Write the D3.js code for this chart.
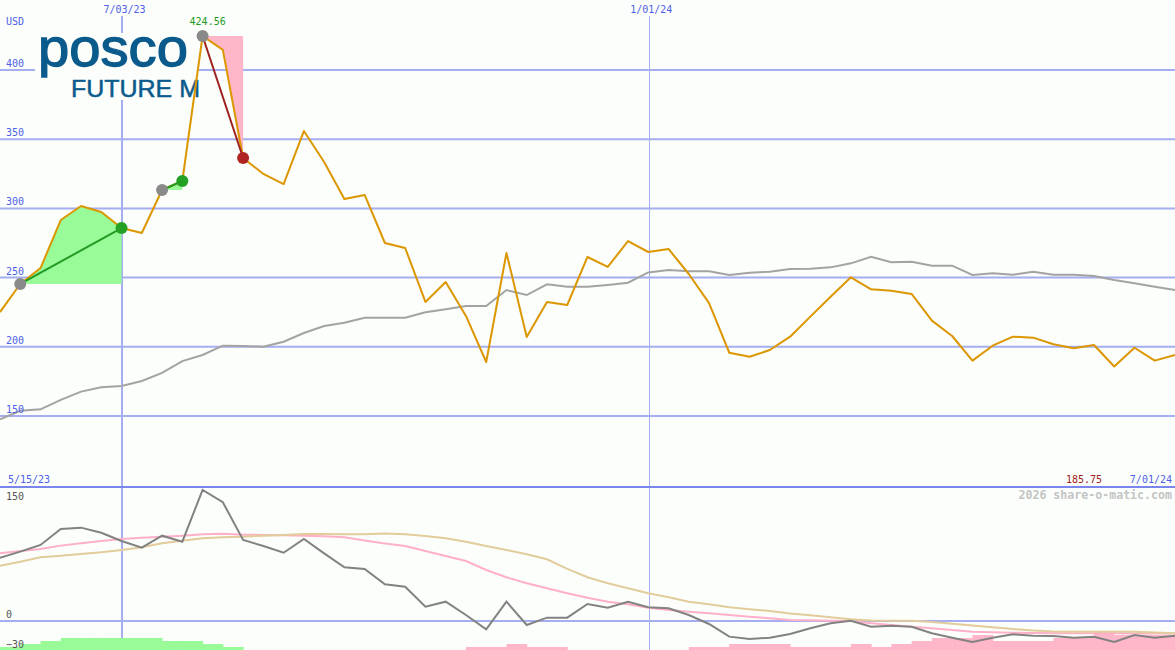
<!DOCTYPE html>
<html>
<head>
<meta charset="utf-8">
<script src="https://cdn.jsdelivr.net/npm/d3@7/dist/d3.min.js"></script>
<style>
  html, body { margin: 0; padding: 0; background: #fbfefb; }
  svg { display: block; }
  text { font-family: "DejaVu Sans Mono", monospace; }
</style>
</head>
<body>
<svg id="chart" width="1175" height="650"></svg>
<script>
// ---------- DATA ----------
const dates = [
  "2023-05-22","2023-05-29","2023-06-05","2023-06-12","2023-06-19","2023-06-26",
  "2023-07-03","2023-07-10","2023-07-17","2023-07-24","2023-07-31",
  "2023-08-07","2023-08-14","2023-08-21","2023-08-28",
  "2023-09-04","2023-09-11","2023-09-18","2023-09-25",
  "2023-10-02","2023-10-09","2023-10-16","2023-10-23","2023-10-30",
  "2023-11-06","2023-11-13","2023-11-20","2023-11-27",
  "2023-12-04","2023-12-11","2023-12-18","2023-12-25",
  "2024-01-01","2024-01-08","2024-01-15","2024-01-22","2024-01-29",
  "2024-02-05","2024-02-12","2024-02-19","2024-02-26",
  "2024-03-04","2024-03-11","2024-03-18","2024-03-25",
  "2024-04-01","2024-04-08","2024-04-15","2024-04-22","2024-04-29",
  "2024-05-06","2024-05-13","2024-05-20","2024-05-27",
  "2024-06-03","2024-06-10","2024-06-17","2024-06-24","2024-07-01"
];
const price = [
  225.1, 245.4, 256.9, 291.6, 301.7, 297.4, 285.8, 282.2, 313.3, 319.8,
  424.56, 414.5, 336.4, 324.9, 317.6, 355.9, 333.5, 306.8, 309.7, 275.0,
  271.4, 232.4, 246.8, 222.3, 189.0, 267.8, 207.1, 232.4, 230.2, 264.9,
  257.7, 276.4, 268.5, 270.7, 252.6, 231.6, 195.7, 192.8, 197.7, 207.3,
  221.8, 236.2, 250.2, 241.5, 240.5, 238.2, 218.9, 207.8, 190.0, 200.8,
  207.3, 206.6, 201.8, 198.9, 201.3, 185.75, 199.3, 190.0, 194.1
];
const movingAvg = [
  147.6, 153.8, 154.8, 161.6, 167.6, 170.7, 171.7, 175.3, 181.1, 189.7,
  194.1, 200.8, 200.6, 200.1, 203.7, 210.0, 215.0, 217.4, 221.0, 221.0,
  221.0, 224.9, 227.1, 229.5, 229.5, 241.0, 237.4, 245.2, 243.4, 243.4,
  244.7, 246.3, 253.7, 255.5, 254.6, 254.6, 251.9, 253.5, 254.3, 256.2,
  256.4, 257.4, 260.3, 265.1, 261.1, 261.5, 258.6, 258.6, 251.9, 253.1,
  252.1, 254.3, 252.1, 252.1, 251.2, 248.3, 245.9, 243.4, 241.0
];
const oscillator = [
  72.5, 79.4, 87.1, 105.4, 106.9, 101.1, 91.6, 84.0, 97.7, 90.8,
  150.1, 136.0, 92.8, 85.9, 78.2, 93.9, 77.5, 61.5, 59.6, 42.0,
  39.3, 16.4, 22.1, 6.9, -9.5, 22.1, -4.6, 3.8, 3.8, 19.5,
  15.2, 22.1, 15.7, 14.5, 6.9, -3.4, -17.9, -20.6, -19.1, -14.9,
  -8.4, -2.6, 0.3, -6.5, -5.4, -6.5, -14.1, -19.1, -24.1, -19.1,
  -15.2, -16.8, -17.2, -19.1, -18.0, -24.1, -16.0, -19.1, -16.8
];
const signalFast = [
  77.5, 80.2, 82.5, 86.3, 89.0, 91.6, 93.9, 95.4, 96.6, 97.7,
  99.3, 100.0, 98.9, 98.5, 98.2, 97.7, 97.0, 95.9, 92.2, 88.8,
  85.9, 80.2, 74.5, 68.7, 58.4, 50.1, 43.2, 37.5, 31.7, 26.7,
  22.1, 19.1, 15.2, 12.6, 10.7, 8.8, 6.9, 4.9, 3.1, 1.1,
  0.8, 0.3, 0.0, -2.6, -4.6, -6.5, -8.4, -10.3, -12.3, -13.0,
  -13.4, -13.7, -13.9, -14.0, -14.0, -14.1, -14.2, -14.2, -14.3
];
const signalSlow = [
  63.3, 67.9, 73.0, 74.8, 76.7, 78.7, 81.3, 84.4, 89.0, 92.0,
  94.7, 95.9, 96.6, 97.7, 98.5, 99.7, 99.7, 99.3, 99.3, 100.2,
  99.3, 97.4, 94.7, 90.8, 85.9, 81.3, 76.4, 70.7, 59.6, 50.1,
  43.2, 37.5, 31.7, 27.2, 22.1, 19.1, 15.7, 13.4, 11.5, 8.6,
  6.5, 4.4, 1.9, 0.6, 0.3, 0.3, -1.1, -3.2, -5.2, -7.2,
  -9.2, -10.9, -12.0, -12.3, -12.3, -12.3, -12.3, -13.2, -14.1
];
const histogram = [
  1, 2, 3, 4, 4, 4, 4, 4, 3, 3, 2, 1,
  0, 0, 0, 0, 0, 0, 0, 0, 0, 0, 0,
  -1, -1, -2, -1, -1,
  0, 0, 0, 0, 0, 0,
  -1, -1, -2, -2, -2, -1, -1, -1, -2, -1, -2, -3, -4, -4, -5, -3, -3, -3, -4, -4, -6, -5, -5, -5, -5
];
const priceTicks = [150, 200, 250, 300, 350, 400];
const oscTicks = [150, 0, -30];
const dateMarks = ["2023-07-03", "2024-01-01"];
const dateMarkLabels = ["7/03/23", "1/01/24"];
const trades = [
  { from: 1, to: 6, win: true },
  { from: 8, to: 9, win: true },
  { from: 10, to: 12, win: false }
];
const currency = "USD";
const peakLabel = "424.56";
const startLabel = "5/15/23";
const endLabel = "7/01/24";
const lowLabel = "185.75";
const credit = "2026 share-o-matic.com";

// ---------- SETUP ----------
const W = 1175, H = 650;
const bg = "#fbfefb";
const parse = d3.timeParse("%Y-%m-%d");
const dts = dates.map(parse);
const svg = d3.select("#chart");

const x = d3.scaleTime().domain([parse("2023-05-22"), parse("2024-07-01")]).range([0, W]);
const y = d3.scaleLinear().domain([150, 400]).range([416, 70]);
const yo = d3.scaleLinear().domain([0, 150]).range([621, 490]);
const yb = d3.scaleLinear().domain([0, 6]).range([650, 632]);
const step = x(dts[1]) - x(dts[0]);

svg.append("rect").attr("width", W).attr("height", H).attr("fill", bg);

const gridCol = "#a4aef0";

// horizontal grid (price)
svg.append("g").selectAll("line").data(priceTicks).join("line")
  .attr("x1", 0).attr("x2", W)
  .attr("y1", d => y(d)).attr("y2", d => y(d))
  .attr("stroke", gridCol).attr("stroke-width", 2);

// vertical date lines
svg.append("g").selectAll("line").data(dateMarks).join("line")
  .attr("x1", (d, i) => Math.round(x(parse(d))) + (i === 1 ? 1.5 : 0))
  .attr("x2", (d, i) => Math.round(x(parse(d))) + (i === 1 ? 1.5 : 0))
  .attr("y1", 16).attr("y2", H)
  .attr("stroke", gridCol)
  .attr("stroke-width", (d, i) => i === 0 ? 2 : 1);

// oscillator zero line
svg.append("line").attr("x1", 0).attr("x2", W)
  .attr("y1", yo(0)).attr("y2", yo(0))
  .attr("stroke", gridCol).attr("stroke-width", 2);

// divider
svg.append("line").attr("x1", 0).attr("x2", W)
  .attr("y1", 487).attr("y2", 487)
  .attr("stroke", "#7a86ec").attr("stroke-width", 2);

// logo
const logoCol = "#0b5a8c";
const logo = svg.append("g");
logo.append("rect").attr("x", 35).attr("y", 33).attr("width", 164).attr("height", 67).attr("fill", bg);
logo.append("text").attr("x", 38).attr("y", 66)
  .attr("textLength", 150).attr("lengthAdjust", "spacingAndGlyphs")
  .style("font-family", "'Liberation Sans', Arial, sans-serif")
  .style("font-size", "54px")
  .attr("fill", logoCol).attr("stroke", logoCol).attr("stroke-width", 1.3)
  .text("posco");
logo.append("text").attr("x", 71).attr("y", 97)
  .attr("textLength", 129).attr("lengthAdjust", "spacingAndGlyphs")
  .style("font-family", "'Liberation Sans', Arial, sans-serif")
  .style("font-size", "24px")
  .attr("fill", logoCol).attr("stroke", logoCol).attr("stroke-width", 0.5)
  .text("FUTURE M");

// trade fills
trades.forEach(t => {
  const base = price[t.from];
  const idx = d3.range(t.from, t.to + 1);
  const area = d3.area()
    .x(i => x(dts[i]))
    .y0(y(base))
    .y1(i => y(price[i]));
  svg.append("path").datum(idx).attr("d", area)
    .attr("fill", t.win ? "#98fb98" : "#ffb6c8");
});

// moving average
const lineP = d3.line().x((d, i) => x(dts[i])).y(d => y(d));
svg.append("path").datum(movingAvg).attr("d", lineP)
  .attr("fill", "none").attr("stroke", "#a3a3a3").attr("stroke-width", 2);

// price
svg.append("path").datum(price).attr("d", lineP)
  .attr("fill", "none").attr("stroke", "#dc9600").attr("stroke-width", 2)
  .attr("stroke-linejoin", "round");

// trade segments and markers
trades.forEach(t => {
  svg.append("line")
    .attr("x1", x(dts[t.from])).attr("y1", y(price[t.from]))
    .attr("x2", x(dts[t.to])).attr("y2", y(price[t.to]))
    .attr("stroke", t.win ? "#239a23" : "#a02020").attr("stroke-width", 2);
});
trades.forEach(t => {
  svg.append("circle").attr("cx", x(dts[t.from])).attr("cy", y(price[t.from])).attr("r", 6)
    .attr("fill", "#8a8a8a");
  svg.append("circle").attr("cx", x(dts[t.to])).attr("cy", y(price[t.to])).attr("r", 6)
    .attr("fill", t.win ? "#24a024" : "#b02424");
});

// ---------- OSCILLATOR PANEL ----------
svg.append("g").selectAll("rect").data(histogram.map((v, i) => ({ v, i })).filter(d => d.v !== 0)).join("rect")
  .attr("x", d => x(dts[d.i]))
  .attr("width", step + 0.5)
  .attr("y", d => yb(Math.abs(d.v)))
  .attr("height", d => yb(0) - yb(Math.abs(d.v)))
  .attr("fill", d => d.v > 0 ? "#98fb98" : "#ffb6c8");

const lineO = d3.line().x((d, i) => x(dts[i])).y(d => yo(d));
svg.append("path").datum(signalFast).attr("d", lineO)
  .attr("fill", "none").attr("stroke", "#ffb0c8").attr("stroke-width", 2);
svg.append("path").datum(signalSlow).attr("d", lineO)
  .attr("fill", "none").attr("stroke", "#e2cc9c").attr("stroke-width", 2);
svg.append("path").datum(oscillator).attr("d", lineO)
  .attr("fill", "none").attr("stroke", "#828282").attr("stroke-width", 2);

// ---------- TEXT ----------
const labelBlue = "#4f5fe8";
svg.append("g").selectAll("text").data(priceTicks).join("text")
  .attr("x", 6).attr("y", d => y(d) - 3)
  .style("font-size", "10px").attr("fill", labelBlue).text(d => d);
svg.append("text").attr("x", 6).attr("y", 25)
  .style("font-size", "10px").attr("fill", labelBlue).text(currency);

svg.append("g").selectAll("text").data(dateMarks).join("text")
  .attr("x", d => x(parse(d)) + 3).attr("y", 13)
  .attr("text-anchor", "middle")
  .style("font-size", "10px").attr("fill", labelBlue)
  .text((d, i) => dateMarkLabels[i]);

svg.append("text").attr("x", x(dts[10]) - 13).attr("y", 25)
  .attr("text-anchor", "start")
  .style("font-size", "10px").attr("fill", "#1c9a1c").text(peakLabel);

svg.append("g").selectAll("text").data(oscTicks).join("text")
  .attr("x", 6).attr("y", d => d === 150 ? yo(d) + 10 : (d === 0 ? yo(d) - 3 : yo(d) + 1))
  .style("font-size", "10px").attr("fill", "#555").text(d => d === -30 ? "\u221230" : d);

svg.append("text").attr("x", 8).attr("y", 483)
  .style("font-size", "10px").attr("fill", labelBlue).text(startLabel);
svg.append("text").attr("x", 1172).attr("y", 483).attr("text-anchor", "end")
  .style("font-size", "10px").attr("fill", labelBlue).text(endLabel);
svg.append("text").attr("x", 1102).attr("y", 483).attr("text-anchor", "end")
  .style("font-size", "10px").attr("fill", "#a02020").text(lowLabel);
svg.append("text").attr("x", 1172).attr("y", 499).attr("text-anchor", "end")
  .style("font-size", "11.6px").style("font-weight", "bold").attr("fill", "#c4c4c4").text(credit);
</script>
</body>
</html>
